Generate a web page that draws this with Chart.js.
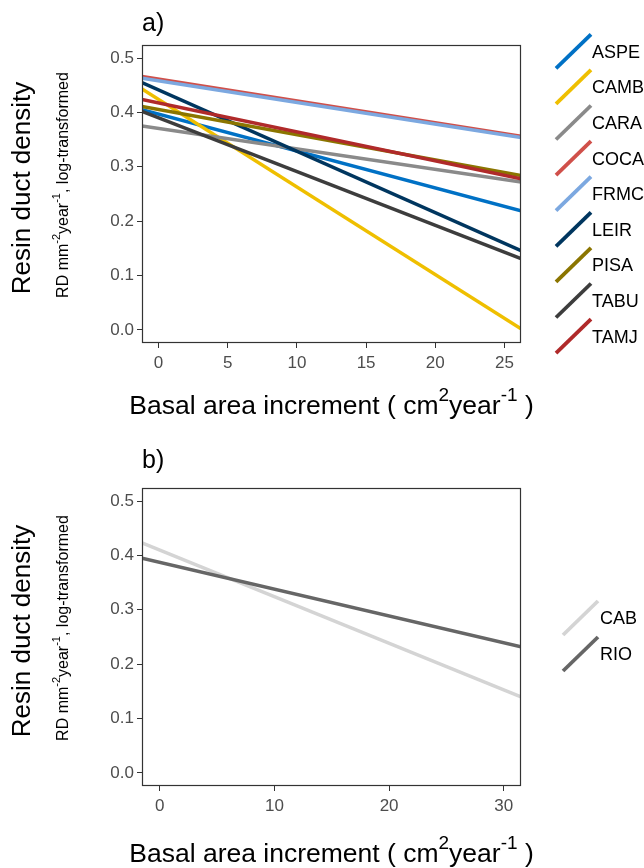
<!DOCTYPE html>
<html>
<head>
<meta charset="utf-8">
<script src="https://cdn.jsdelivr.net/npm/chart.js@4/dist/chart.umd.min.js"></script>
<style>
  body { margin: 0; background: #fff; }
  canvas { display: block; }
</style>
</head>
<body>
<canvas id="panelA" width="644" height="434"></canvas>
<canvas id="panelB" width="644" height="434"></canvas>
<script>
// Panel a: fitted lines per population (value at left and right end of BAI range)
const speciesA = ["ASPE", "CAMB", "CARA", "COCA", "FRMC", "LEIR", "PISA", "TABU", "TAMJ"];
const baiRangeA = [-1.2, 26.2];
const rdStartA = [0.405, 0.443, 0.375, 0.466, 0.463, 0.455, 0.411, 0.402, 0.424];
const rdEndA = [0.219, 0.002, 0.272, 0.356, 0.354, 0.146, 0.284, 0.131, 0.278];
const xTicksA = [0, 5, 10, 15, 20, 25];

// Panel b
const sitesB = ["CAB", "RIO"];
const baiRangeB = [-1.55, 31.5];
const rdStartB = [0.423, 0.395];
const rdEndB = [0.140, 0.232];
const xTicksB = [0, 10, 20, 30];

const yTicks = [0.0, 0.1, 0.2, 0.3, 0.4, 0.5];
const yRange = [-0.024, 0.524];

const colorsA = ["#0071c5", "#efbf00", "#8a8a8a", "#d0504a", "#7ca8e0", "#00365f", "#8b7500", "#3d3d3d", "#b02a2a"];
const colorsB = ["#d4d4d4", "#666666"];

const FONT = '"Liberation Sans", Arial, sans-serif';
const xLabel = [{ t: "Basal area increment ( cm" }, { t: "2", sup: true }, { t: "year" }, { t: "-1", sup: true }, { t: " )" }];
const yLabel2 = [{ t: "RD mm" }, { t: "-2", sup: true }, { t: "year" }, { t: "-1", sup: true }, { t: ", log-transformed" }];

function richText(ctx, parts, x, y, size, align) {
  const supSize = Math.round(size * 0.7);
  let w = 0;
  parts.forEach((p) => {
    ctx.font = (p.sup ? supSize : size) + "px " + FONT;
    p.w = ctx.measureText(p.t).width;
    w += p.w;
  });
  let cx = align === "center" ? x - w / 2 : x;
  ctx.textAlign = "left";
  ctx.textBaseline = "middle";
  parts.forEach((p) => {
    ctx.font = (p.sup ? supSize : size) + "px " + FONT;
    ctx.fillText(p.t, cx, p.sup ? y - size * 0.42 : y);
    cx += p.w;
  });
}

// draws frame, panel letter, axis titles and the diagonal legend keys
const panelDeco = {
  id: "panelDeco",
  afterDraw(chart, args, o) {
    const ctx = chart.ctx;
    const a = chart.chartArea;
    ctx.save();
    ctx.strokeStyle = "#333";
    ctx.lineWidth = 1.2;
    ctx.strokeRect(a.left + 0.5, a.top + 0.5, a.right - a.left - 1, a.bottom - a.top - 1);

    ctx.fillStyle = "#000";
    ctx.font = "25px " + FONT;
    ctx.textAlign = "left";
    ctx.textBaseline = "middle";
    ctx.fillText(o.letter, a.left, o.letterY);

    richText(ctx, xLabel, (a.left + a.right) / 2, o.xTitleY, 26.5, "center");

    const mid = (a.top + a.bottom) / 2;
    ctx.save();
    ctx.translate(23, mid - 6);
    ctx.rotate(-Math.PI / 2);
    ctx.font = "26px " + FONT;
    ctx.textAlign = "center";
    ctx.fillText("Resin duct density", 0, 0);
    ctx.restore();
    ctx.save();
    ctx.translate(64, mid - 9);
    ctx.rotate(-Math.PI / 2);
    richText(ctx, yLabel2, 0, 0, 16, "center");
    ctx.restore();

    chart.data.datasets.forEach((ds, i) => {
      const yc = o.legendY + i * o.legendGap;
      ctx.strokeStyle = ds.borderColor;
      ctx.lineWidth = 3.8;
      ctx.beginPath();
      ctx.moveTo(o.keyX, yc + 17);
      ctx.lineTo(o.keyX + 35, yc - 17);
      ctx.stroke();
      ctx.fillStyle = "#000";
      ctx.font = "18px " + FONT;
      ctx.textAlign = "left";
      ctx.textBaseline = "middle";
      ctx.fillText(ds.label, o.textX, yc + 1.5);
    });
    ctx.restore();
  },
};

function makePanel(id, labels, xr, y0, y1, colors, xTicks, deco) {
  const canvas = document.getElementById(id);
  const H = canvas.height;
  const datasets = labels.map((lab, i) => ({
    label: lab,
    data: [{ x: xr[0], y: y0[i] }, { x: xr[1], y: y1[i] }],
    showLine: true,
    borderColor: colors[i],
    borderWidth: 3.5,
    pointRadius: 0,
    order: labels.length - i,
  }));
  const tickFont = { family: FONT, size: 17 };
  return new Chart(canvas, {
    type: "scatter",
    data: { datasets },
    plugins: [panelDeco],
    options: {
      responsive: false,
      animation: false,
      layout: { padding: { left: 0, top: deco.top, right: 123, bottom: 0 } },
      plugins: {
        legend: { display: false },
        tooltip: { enabled: false },
        panelDeco: deco,
      },
      scales: {
        x: {
          type: "linear",
          min: xr[0],
          max: xr[1],
          afterBuildTicks: (s) => { s.ticks = xTicks.map((v) => ({ value: v })); },
          afterFit: (s) => { s.height = H - deco.bottom; },
          grid: { drawOnChartArea: false, color: "#333", tickLength: 5 },
          border: { display: false },
          ticks: { color: "#4d4d4d", font: tickFont, padding: 5, maxRotation: 0, autoSkip: false,
            callback: (v) => String(v) },
        },
        y: {
          type: "linear",
          min: yRange[0],
          max: yRange[1],
          afterBuildTicks: (s) => { s.ticks = yTicks.map((v) => ({ value: v })); },
          afterFit: (s) => { s.width = 142; },
          grid: { drawOnChartArea: false, color: "#333", tickLength: 5 },
          border: { display: false },
          ticks: { color: "#4d4d4d", font: tickFont, padding: 3, autoSkip: false,
            callback: (v) => v.toFixed(1) },
        },
      },
    },
  });
}

makePanel("panelA", speciesA, baiRangeA, rdStartA, rdEndA, colorsA, xTicksA, {
  top: 45, bottom: 343, letter: "a)", letterY: 24, xTitleY: 407,
  legendY: 51.3, legendGap: 35.6, keyX: 556, textX: 592,
});
makePanel("panelB", sitesB, baiRangeB, rdStartB, rdEndB, colorsB, xTicksB, {
  top: 54, bottom: 352, letter: "b)", letterY: 27, xTitleY: 421,
  legendY: 184, legendGap: 36, keyX: 563, textX: 600,
});
</script>
</body>
</html>
